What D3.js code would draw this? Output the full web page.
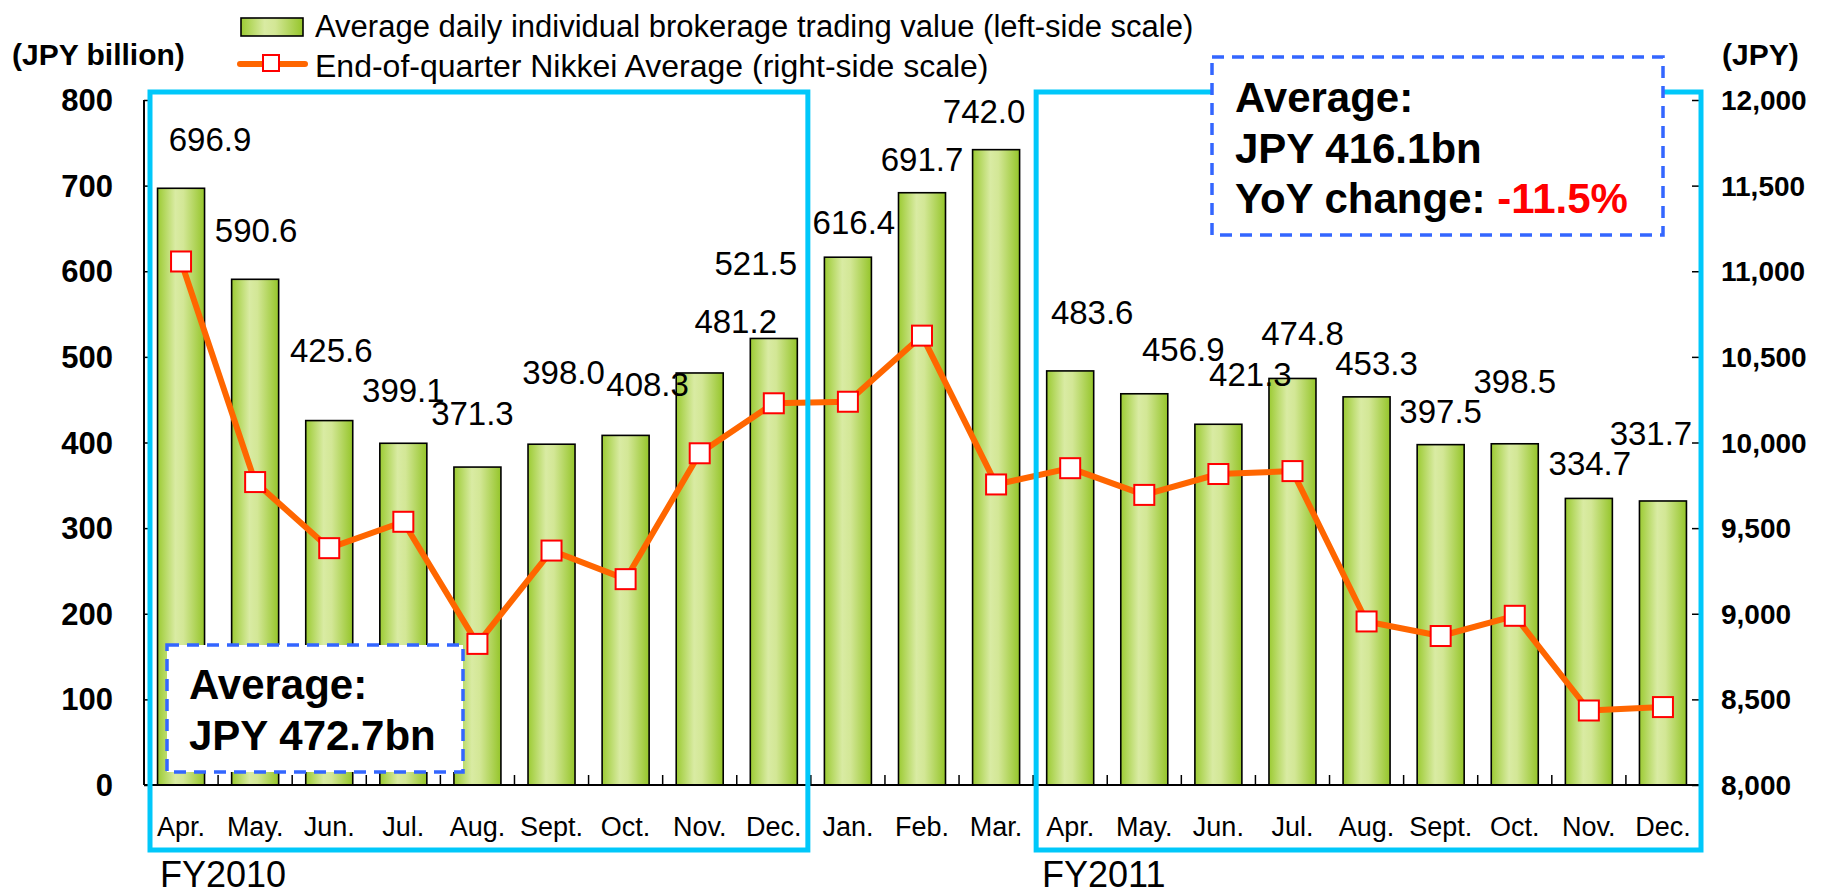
<!DOCTYPE html>
<html><head><meta charset="utf-8">
<script src="https://cdn.jsdelivr.net/npm/d3@7"></script>
<style>
html,body{margin:0;padding:0;background:#fff;}
svg{display:block;font-family:Arial,"Liberation Sans",sans-serif;}
</style></head>
<body>
<svg id="chart" width="1824" height="894"></svg>
<script>
// ---- data ----
const categories = ["Apr.","May.","Jun.","Jul.","Aug.","Sept.","Oct.","Nov.","Dec.","Jan.","Feb.","Mar.",
                    "Apr.","May.","Jun.","Jul.","Aug.","Sept.","Oct.","Nov.","Dec."];
const tradingValue = [696.9,590.6,425.6,399.1,371.3,398.0,408.3,481.2,521.5,616.4,691.7,742.0,
                      483.6,456.9,421.3,474.8,453.3,397.5,398.5,334.7,331.7];
const nikkei = [11057,9769,9383,9537,8824,9369,9202,9937,10229,10238,10624,9755,
                9850,9694,9816,9833,8955,8870,8988,8435,8455];
const leftTicks = [0,100,200,300,400,500,600,700,800];
const rightTicks = [8000,8500,9000,9500,10000,10500,11000,11500,12000];
const legendLabels = ["Average daily individual brokerage trading value (left-side scale)",
                      "End-of-quarter Nikkei Average (right-side scale)"];
const fyLabels = ["FY2010","FY2011"];
// label placement tweaks (px offsets from bar centre / bar top)
const labelDx = [29,1,2,0,-5,12,22,36,-18,6,0,-12,22,39,32,10,10,0,0,1,-12];
const labelDy = [-37,-37,-59,-41,-42,-60,-39,-40,-63,-23,-22,-27,-47,-33,-38,-33,-22,-22,-51,-23,-56];

const svg = d3.select("#chart");
const X0 = 144, X1 = 1700, YT = 100, YB = 785;

const xb = d3.scaleBand().domain(d3.range(categories.length)).range([X0, X1]);
const yL = d3.scaleLinear().domain([0,800]).range([YB, YT]);
const yR = d3.scaleLinear().domain([8000,12000]).range([YB, YT]);
const cx = i => xb(i) + xb.bandwidth()/2;

// gradient
const defs = svg.append("defs");
const grad = defs.append("linearGradient").attr("id","barGrad").attr("x1","0").attr("x2","1").attr("y1","0").attr("y2","0");
[["0%","#9ccb33"],["38%","#d9eba3"],["55%","#d3e796"],["100%","#95c52a"]].forEach(s=>grad.append("stop").attr("offset",s[0]).attr("stop-color",s[1]));

// bars
svg.append("g").selectAll("rect").data(tradingValue).join("rect")
  .attr("x",(d,i)=>cx(i)-23.5)
  .attr("width",47)
  .attr("y",d=>yL(d)).attr("height",d=>YB-yL(d))
  .attr("fill","url(#barGrad)").attr("stroke","#000").attr("stroke-width",1.6);

// axes
const gL = svg.append("g").attr("transform",`translate(${X0},0)`)
  .call(d3.axisRight(yL).tickValues(leftTicks).tickSize(8).tickFormat(""));
gL.select(".domain").attr("stroke","#000").attr("stroke-width",2).attr("d",`M0,${YT}V${YB}`);
gL.selectAll(".tick line").attr("stroke","#000").attr("stroke-width",1.5);

const gR = svg.append("g").attr("transform",`translate(${X1},0)`)
  .call(d3.axisLeft(yR).tickValues(rightTicks).tickSize(8).tickFormat(""));
gR.select(".domain").attr("stroke","#000").attr("stroke-width",2).attr("d",`M0,${YT}V${YB}`);
gR.selectAll(".tick line").attr("stroke","#000").attr("stroke-width",1.5);

// x axis line & ticks at band boundaries
const gX = svg.append("g");
gX.append("line").attr("x1",X0).attr("x2",X1).attr("y1",YB).attr("y2",YB).attr("stroke","#000").attr("stroke-width",2);
gX.selectAll("line.t").data(d3.range(1,categories.length)).join("line").attr("class","t")
  .attr("x1",i=>xb(i)).attr("x2",i=>xb(i)).attr("y1",YB).attr("y2",YB-10)
  .attr("stroke","#000").attr("stroke-width",1.5);

// tick labels
svg.append("g").selectAll("text").data(leftTicks).join("text")
  .attr("x",113).attr("y",d=>yL(d)+11).attr("text-anchor","end")
  .attr("font-size",31).attr("font-weight","bold").text(d=>d);
svg.append("g").selectAll("text").data(rightTicks).join("text")
  .attr("x",1721).attr("y",d=>yR(d)+10).attr("text-anchor","start")
  .attr("font-size",28).attr("font-weight","bold").text(d=>d3.format(",")(d));
svg.append("text").attr("x",12).attr("y",65).attr("font-size",30).attr("font-weight","bold").text("(JPY billion)");
svg.append("text").attr("x",1722).attr("y",65).attr("font-size",30).attr("font-weight","bold").text("(JPY)");

// category labels
svg.append("g").selectAll("text").data(categories).join("text")
  .attr("x",(d,i)=>cx(i)).attr("y",836).attr("text-anchor","middle")
  .attr("font-size",27).text(d=>d);

// Nikkei line
const line = d3.line().x((d,i)=>cx(i)).y(d=>yR(d));
svg.append("path").datum(nikkei).attr("d",line).attr("fill","none")
  .attr("stroke","#ff6600").attr("stroke-width",6).attr("stroke-linejoin","round");
svg.append("g").selectAll("rect").data(nikkei).join("rect")
  .attr("x",(d,i)=>cx(i)-10).attr("y",d=>yR(d)-10)
  .attr("width",20).attr("height",20).attr("fill","#fff").attr("stroke","#ff0000").attr("stroke-width",2);

// cyan period boxes
const cyan = "#00c8fa";
svg.append("rect").attr("x",X0+6).attr("y",92).attr("width",xb(9)-3-(X0+6)).attr("height",850-92)
  .attr("fill","none").attr("stroke",cyan).attr("stroke-width",5);
svg.append("rect").attr("x",xb(12)+3).attr("y",92).attr("width",X1+1-(xb(12)+3)).attr("height",850-92)
  .attr("fill","none").attr("stroke",cyan).attr("stroke-width",5);

// data labels
svg.append("g").selectAll("text").data(tradingValue).join("text")
  .attr("x",(d,i)=>cx(i)+labelDx[i]).attr("y",(d,i)=>yL(d)+labelDy[i])
  .attr("text-anchor","middle").attr("font-size",33).text(d=>d3.format(".1f")(d));

// FY labels
svg.append("text").attr("x",160).attr("y",887).attr("font-size",36).text(fyLabels[0]);
svg.append("text").attr("x",1042).attr("y",887).attr("font-size",36).text(fyLabels[1]);

// dashed average boxes
const blue = "#3366ff";
svg.append("rect").attr("x",167).attr("y",645).attr("width",296).attr("height",127)
  .attr("fill","#fff").attr("stroke",blue).attr("stroke-width",3.5).attr("stroke-dasharray","12 8");
svg.append("text").attr("x",189).attr("y",699).attr("font-size",42).attr("font-weight","bold").text("Average:");
svg.append("text").attr("x",189).attr("y",750).attr("font-size",42).attr("font-weight","bold").text("JPY 472.7bn");

svg.append("rect").attr("x",1212).attr("y",57).attr("width",451).attr("height",178)
  .attr("fill","#fff").attr("stroke",blue).attr("stroke-width",3.5).attr("stroke-dasharray","12 8");
svg.append("text").attr("x",1235).attr("y",112).attr("font-size",42).attr("font-weight","bold").text("Average:");
svg.append("text").attr("x",1235).attr("y",163).attr("font-size",42).attr("font-weight","bold").text("JPY 416.1bn");
const t3 = svg.append("text").attr("x",1235).attr("y",213).attr("font-size",42).attr("font-weight","bold");
t3.append("tspan").text("YoY change: ");
t3.append("tspan").attr("fill","#ff0000").text("-11.5%");

// legend
const lg = svg.append("g");
lg.append("rect").attr("x",241).attr("y",18).attr("width",62).attr("height",18)
  .attr("fill","url(#barGrad)").attr("stroke","#000").attr("stroke-width",1.6);
lg.append("text").attr("x",315).attr("y",37).attr("font-size",31).text(legendLabels[0]);
lg.append("line").attr("x1",240).attr("x2",305).attr("y1",64).attr("y2",64)
  .attr("stroke","#ff6600").attr("stroke-width",6).attr("stroke-linecap","round");
lg.append("rect").attr("x",263).attr("y",55).attr("width",16).attr("height",16)
  .attr("fill","#fff").attr("stroke","#ff0000").attr("stroke-width",2);
lg.append("text").attr("x",315).attr("y",77).attr("font-size",32).text(legendLabels[1]);
</script>
</body></html>
